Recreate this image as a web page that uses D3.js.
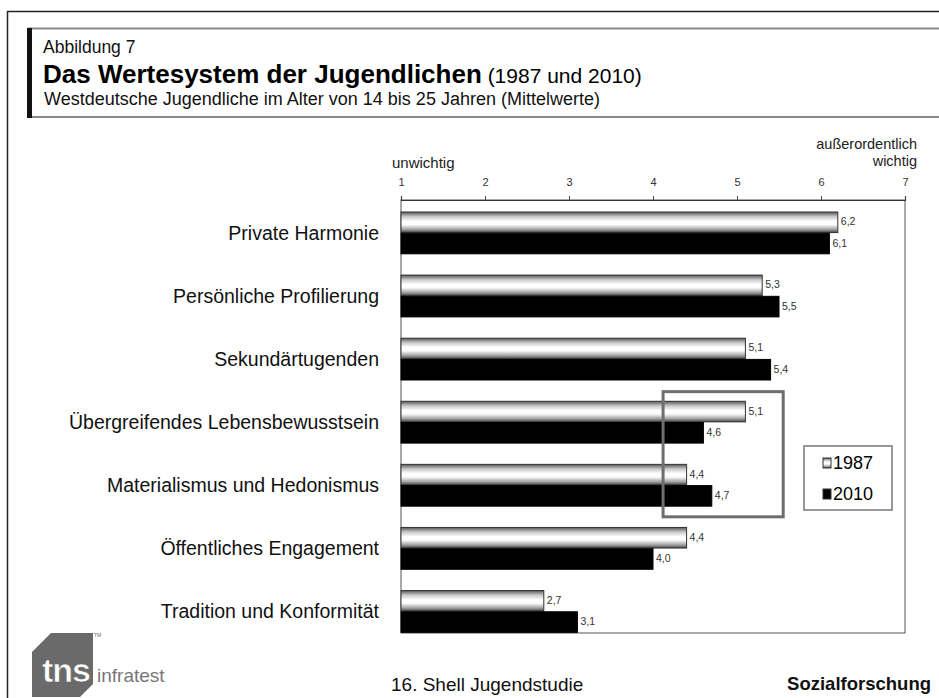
<!DOCTYPE html>
<html>
<head>
<meta charset="utf-8">
<style>
	body { margin: 0; background: #fff; }
	svg { display: block; font-family: "Liberation Sans", Arial, sans-serif; }
</style>
</head>
<body>
<svg id="chart" width="939" height="698"></svg>
<script src="https://cdn.jsdelivr.net/npm/d3@7"></script>
<script>
	// data
	var categories = ["Private Harmonie", "Persönliche Profilierung", "Sekundärtugenden",
		"Übergreifendes Lebensbewusstsein", "Materialismus und Hedonismus",
		"Öffentliches Engagement", "Tradition und Konformität"];
	var years = ["1987", "2010"];
	var values1987 = [6.2, 5.3, 5.1, 5.1, 4.4, 4.4, 2.7];
	var values2010 = [6.1, 5.5, 5.4, 4.6, 4.7, 4.0, 3.1];
	var tickValues = [1, 2, 3, 4, 5, 6, 7];
	// highlighted area (scale units / categories)
	var highlightRange = [4.12, 5.55];
	var highlightCats = ["Übergreifendes Lebensbewusstsein", "Materialismus und Hedonismus"];

	var svg = d3.select("#chart");
	var fmt = function(v){ return d3.format(".1f")(v).replace(".", ","); };
	var narrow = "'Liberation Sans Narrow', 'Liberation Sans', sans-serif";

	// outer frame
	svg.append("line").attr("x1", 7).attr("x2", 939).attr("y1", 11.5).attr("y2", 11.5).attr("stroke", "#222").attr("stroke-width", 1.5);
	svg.append("line").attr("x1", 7.5).attr("x2", 7.5).attr("y1", 11).attr("y2", 698).attr("stroke", "#222").attr("stroke-width", 1.5);

	// title box
	svg.append("line").attr("x1", 28).attr("x2", 939).attr("y1", 28.5).attr("y2", 28.5).attr("stroke", "#888").attr("stroke-width", 2);
	svg.append("line").attr("x1", 28).attr("x2", 939).attr("y1", 117).attr("y2", 117).attr("stroke", "#888").attr("stroke-width", 2);
	svg.append("rect").attr("x", 27).attr("y", 28).attr("width", 5).attr("height", 90).attr("fill", "#111");

	svg.append("text").attr("x", 43).attr("y", 53).style("font-size", "17.5px").attr("fill", "#111").text("Abbildung 7");
	var t = svg.append("text").attr("x", 43).attr("y", 83).attr("fill", "#000");
	t.append("tspan").style("font-size", "26px").style("font-weight", "bold").text("Das Wertesystem der Jugendlichen");
	t.append("tspan").style("font-size", "21px").text(" (1987 und 2010)");
	svg.append("text").attr("x", 44).attr("y", 105).style("font-size", "18px").attr("fill", "#111")
		.text("Westdeutsche Jugendliche im Alter von 14 bis 25 Jahren (Mittelwerte)");

	// scales
	var plotL = 401, plotR = 905, plotT = 200, plotB = 633;
	var x = d3.scaleLinear().domain([1, 7]).range([plotL, plotR]);
	var y = d3.scaleBand().domain(categories).range([plotT, plotB]).paddingInner(0.317).paddingOuter(0.09).align(1);
	var yi = d3.scaleBand().domain(years).range([0, y.bandwidth()]).padding(0.03);

	// gradient for 1987 bars
	var defs = svg.append("defs");
	var grad = defs.append("linearGradient").attr("id", "g1987").attr("x1", 0).attr("x2", 0).attr("y1", 0).attr("y2", 1);
	grad.append("stop").attr("offset", "0%").attr("stop-color", "#555");
	grad.append("stop").attr("offset", "22%").attr("stop-color", "#c8c8c8");
	grad.append("stop").attr("offset", "45%").attr("stop-color", "#fff");
	grad.append("stop").attr("offset", "62%").attr("stop-color", "#fafafa");
	grad.append("stop").attr("offset", "85%").attr("stop-color", "#a0a0a0");
	grad.append("stop").attr("offset", "100%").attr("stop-color", "#444");

	// plot frame
	svg.append("rect").attr("x", plotL).attr("y", plotT).attr("width", plotR - plotL).attr("height", plotB - plotT)
		.attr("fill", "none").attr("stroke", "#555").attr("stroke-width", 1);

	// axis at top
	var axis = d3.axisTop(x).tickValues(tickValues).tickSize(4).tickPadding(10).tickFormat(d3.format("d"));
	var ag = svg.append("g").attr("transform", "translate(0," + plotT + ")").call(axis);
	ag.select(".domain").attr("stroke", "#333").attr("stroke-width", 1.2);
	ag.selectAll(".tick line").attr("stroke", "#444");
	ag.selectAll(".tick text").style("font-size", "11px").attr("fill", "#333").style("font-family", "Liberation Sans, Arial, sans-serif");

	svg.append("text").attr("x", 392).attr("y", 168).style("font-size", "15px").attr("fill", "#222").text("unwichtig");
	svg.append("text").attr("x", 917).attr("y", 149).attr("text-anchor", "end").style("font-size", "14.5px").attr("fill", "#222").text("außerordentlich");
	svg.append("text").attr("x", 917).attr("y", 166).attr("text-anchor", "end").style("font-size", "14.5px").attr("fill", "#222").text("wichtig");

	// category labels
	svg.selectAll(".cat").data(categories).enter().append("text")
		.attr("class", "cat")
		.attr("x", 379)
		.attr("y", function(d){ return y(d) + y.bandwidth() / 2 + 7; })
		.attr("text-anchor", "end")
		.style("font-size", "19.5px")
		.attr("fill", "#111")
		.text(function(d){ return d; });

	// bars
	var rows = categories.map(function(c, i){
		return { cat: c, v: [values1987[i], values2010[i]] };
	});
	var grp = svg.selectAll(".grp").data(rows).enter().append("g")
		.attr("transform", function(d){ return "translate(0," + y(d.cat) + ")"; });

	grp.selectAll("rect").data(function(d){ return years.map(function(yr, k){ return { yr: yr, v: d.v[k] }; }); })
		.enter().append("rect")
		.attr("x", x(1))
		.attr("y", function(d){ return yi(d.yr); })
		.attr("width", function(d){ return x(d.v) - x(1); })
		.attr("height", yi.bandwidth())
		.attr("fill", function(d){ return d.yr == "1987" ? "url(#g1987)" : "#000"; })
		.attr("stroke", function(d){ return d.yr == "1987" ? "#333" : "#000"; })
		.attr("stroke-width", 1);

	grp.selectAll(".val").data(function(d){ return years.map(function(yr, k){ return { yr: yr, v: d.v[k] }; }); })
		.enter().append("text")
		.attr("class", "val")
		.attr("x", function(d){ return x(d.v) + 3; })
		.attr("y", function(d){ return yi(d.yr) + yi.bandwidth() / 2 + 3; })
		.style("font-size", "10.5px")
		.attr("fill", "#333")
		.text(function(d){ return fmt(d.v); });

	// highlight box
	var hy0 = y(highlightCats[0]) - 9, hy1 = y(highlightCats[1]) + y.bandwidth() + 10;
	svg.append("rect").attr("x", x(highlightRange[0])).attr("y", hy0)
		.attr("width", x(highlightRange[1]) - x(highlightRange[0])).attr("height", hy1 - hy0)
		.attr("fill", "none").attr("stroke", "#6e6e6e").attr("stroke-width", 3);

	// legend
	var lg = svg.append("g").attr("transform", "translate(804,446)");
	lg.append("rect").attr("width", 88).attr("height", 64).attr("fill", "#fff").attr("stroke", "#777").attr("stroke-width", 1.5);
	years.forEach(function(yr, k){
		var row = lg.append("g").attr("transform", "translate(19," + (12 + k * 31) + ")");
		row.append("rect").attr("width", 8).attr("height", 10)
			.attr("fill", yr == "1987" ? "url(#g1987)" : "#000").attr("stroke", "#333");
		row.append("text").attr("x", 10).attr("y", 11).style("font-size", "18px").attr("fill", "#000").text(yr);
	});

	// footer: logo
	svg.append("path").attr("d", "M32,652 L51,633 L93,633 L93,684 L80,697 L32,697 Z").attr("fill", "#6a6a6a");
	svg.append("text").attr("x", 94).attr("y", 637).style("font-size", "5px").attr("fill", "#666").text("TM");
	svg.append("text").attr("x", 42).attr("y", 682).style("font-size", "34px").style("font-weight", "bold")
		.style("letter-spacing", "-1px").attr("fill", "#fff").attr("stroke", "#6a6a6a").attr("stroke-width", 0.6).text("tns");
	svg.append("text").attr("x", 97).attr("y", 682).style("font-size", "19px")
		.style("font-family", narrow).attr("fill", "#777").text("infratest");
	svg.append("text").attr("x", 391).attr("y", 691).style("font-size", "19px")
		.style("font-family", narrow).attr("fill", "#111").text("16. Shell Jugendstudie");
	svg.append("text").attr("x", 931).attr("y", 690).attr("text-anchor", "end").style("font-size", "18.5px").style("font-weight", "bold").attr("fill", "#111").text("Sozialforschung");
</script>
</body>
</html>
